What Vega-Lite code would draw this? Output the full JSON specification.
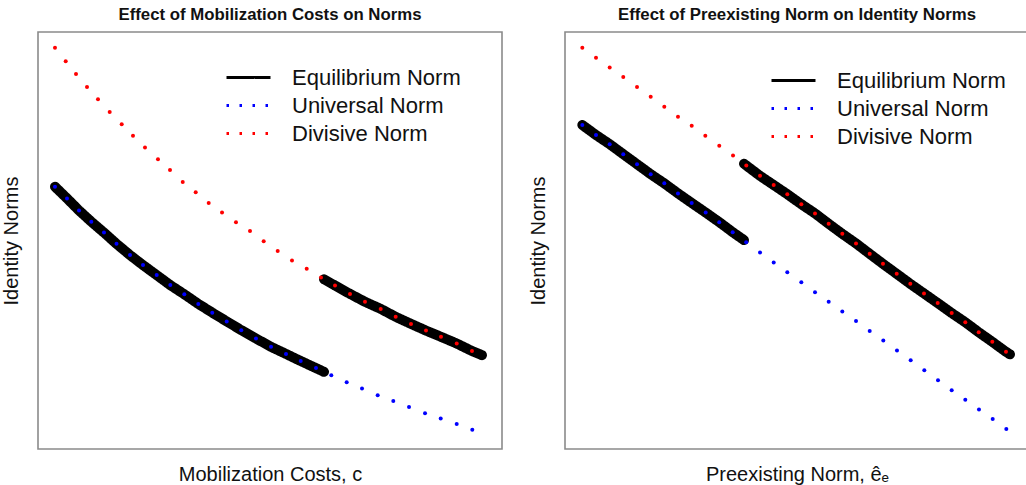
{
  "$schema": "https://vega.github.io/schema/vega-lite/v6.json",
  "background": "white",
  "padding": {"left": 0, "top": 6, "right": 0, "bottom": 0},
  "spacing": 24,
  "config": {
    "view": {"stroke": "#8a8a8a", "strokeWidth": 1.6},
    "font": "Liberation Sans",
    "axis": {"labels": false, "ticks": false, "domain": false, "grid": false, "titleFont": "Liberation Sans", "titleFontSize": 20, "titleFontWeight": "normal", "titleColor": "#111"},
    "axisX": {"titlePadding": 15},
    "axisY": {"titlePadding": 17},
    "title": {"font": "Liberation Sans", "fontSize": 16.8, "fontWeight": "bold", "color": "#111", "offset": 8},
    "legend": {"orient": "none", "title": null, "labelFont": "Liberation Sans", "labelFontSize": 22, "labelLimit": 400, "labelColor": "#111", "symbolType": "M-1.6,0H1.6", "symbolSize": 756, "symbolStrokeWidth": 3, "labelOffset": 28, "rowPadding": 1}
  },
  "datasets": {
    "mob": [
      {"series": "Equilibrium Norm", "seg": "a", "x": 3.66, "y": 62.9},
      {"series": "Equilibrium Norm", "seg": "a", "x": 6.25, "y": 60.1},
      {"series": "Equilibrium Norm", "seg": "a", "x": 8.84, "y": 57.2},
      {"series": "Equilibrium Norm", "seg": "a", "x": 11.49, "y": 54.5},
      {"series": "Equilibrium Norm", "seg": "a", "x": 14.22, "y": 51.9},
      {"series": "Equilibrium Norm", "seg": "a", "x": 16.92, "y": 49.2},
      {"series": "Equilibrium Norm", "seg": "a", "x": 19.83, "y": 46.5},
      {"series": "Equilibrium Norm", "seg": "a", "x": 22.63, "y": 44.1},
      {"series": "Equilibrium Norm", "seg": "a", "x": 25.58, "y": 41.7},
      {"series": "Equilibrium Norm", "seg": "a", "x": 28.51, "y": 39.3},
      {"series": "Equilibrium Norm", "seg": "a", "x": 31.53, "y": 37.1},
      {"series": "Equilibrium Norm", "seg": "a", "x": 34.55, "y": 34.8},
      {"series": "Equilibrium Norm", "seg": "a", "x": 37.56, "y": 32.7},
      {"series": "Equilibrium Norm", "seg": "a", "x": 40.67, "y": 30.6},
      {"series": "Equilibrium Norm", "seg": "a", "x": 43.81, "y": 28.5},
      {"series": "Equilibrium Norm", "seg": "a", "x": 46.98, "y": 26.5},
      {"series": "Equilibrium Norm", "seg": "a", "x": 50.22, "y": 24.5},
      {"series": "Equilibrium Norm", "seg": "a", "x": 53.45, "y": 22.8},
      {"series": "Equilibrium Norm", "seg": "a", "x": 56.62, "y": 21.1},
      {"series": "Equilibrium Norm", "seg": "a", "x": 59.91, "y": 19.4},
      {"series": "Equilibrium Norm", "seg": "a", "x": 61.64, "y": 18.5},
      {"series": "Equilibrium Norm", "seg": "b", "x": 61.64, "y": 40.7},
      {"series": "Equilibrium Norm", "seg": "b", "x": 64.01, "y": 39.2},
      {"series": "Equilibrium Norm", "seg": "b", "x": 67.24, "y": 37.2},
      {"series": "Equilibrium Norm", "seg": "b", "x": 70.47, "y": 35.3},
      {"series": "Equilibrium Norm", "seg": "b", "x": 73.86, "y": 33.6},
      {"series": "Equilibrium Norm", "seg": "b", "x": 77.09, "y": 31.7},
      {"series": "Equilibrium Norm", "seg": "b", "x": 80.39, "y": 30.0},
      {"series": "Equilibrium Norm", "seg": "b", "x": 83.62, "y": 28.4},
      {"series": "Equilibrium Norm", "seg": "b", "x": 86.85, "y": 26.9},
      {"series": "Equilibrium Norm", "seg": "b", "x": 90.24, "y": 25.3},
      {"series": "Equilibrium Norm", "seg": "b", "x": 93.53, "y": 23.5},
      {"series": "Equilibrium Norm", "seg": "b", "x": 95.69, "y": 22.5},
      {"series": "Universal Norm", "seg": "u", "x": 3.66, "y": 62.9},
      {"series": "Universal Norm", "seg": "u", "x": 6.25, "y": 60.1},
      {"series": "Universal Norm", "seg": "u", "x": 8.84, "y": 57.2},
      {"series": "Universal Norm", "seg": "u", "x": 11.49, "y": 54.5},
      {"series": "Universal Norm", "seg": "u", "x": 14.22, "y": 51.9},
      {"series": "Universal Norm", "seg": "u", "x": 16.92, "y": 49.2},
      {"series": "Universal Norm", "seg": "u", "x": 19.83, "y": 46.5},
      {"series": "Universal Norm", "seg": "u", "x": 22.63, "y": 44.1},
      {"series": "Universal Norm", "seg": "u", "x": 25.58, "y": 41.7},
      {"series": "Universal Norm", "seg": "u", "x": 28.51, "y": 39.3},
      {"series": "Universal Norm", "seg": "u", "x": 31.53, "y": 37.1},
      {"series": "Universal Norm", "seg": "u", "x": 34.55, "y": 34.8},
      {"series": "Universal Norm", "seg": "u", "x": 37.56, "y": 32.7},
      {"series": "Universal Norm", "seg": "u", "x": 40.67, "y": 30.6},
      {"series": "Universal Norm", "seg": "u", "x": 43.81, "y": 28.5},
      {"series": "Universal Norm", "seg": "u", "x": 46.98, "y": 26.5},
      {"series": "Universal Norm", "seg": "u", "x": 50.22, "y": 24.5},
      {"series": "Universal Norm", "seg": "u", "x": 53.45, "y": 22.8},
      {"series": "Universal Norm", "seg": "u", "x": 56.62, "y": 21.1},
      {"series": "Universal Norm", "seg": "u", "x": 59.91, "y": 19.4},
      {"series": "Universal Norm", "seg": "u", "x": 63.21, "y": 17.7},
      {"series": "Universal Norm", "seg": "u", "x": 66.53, "y": 16.0},
      {"series": "Universal Norm", "seg": "u", "x": 69.83, "y": 14.5},
      {"series": "Universal Norm", "seg": "u", "x": 73.21, "y": 12.9},
      {"series": "Universal Norm", "seg": "u", "x": 76.57, "y": 11.5},
      {"series": "Universal Norm", "seg": "u", "x": 79.96, "y": 10.1},
      {"series": "Universal Norm", "seg": "u", "x": 83.41, "y": 8.6},
      {"series": "Universal Norm", "seg": "u", "x": 86.79, "y": 7.3},
      {"series": "Universal Norm", "seg": "u", "x": 90.24, "y": 6.0},
      {"series": "Universal Norm", "seg": "u", "x": 93.6, "y": 4.6},
      {"series": "Divisive Norm", "seg": "d", "x": 3.66, "y": 96.2},
      {"series": "Divisive Norm", "seg": "d", "x": 5.97, "y": 93.0},
      {"series": "Divisive Norm", "seg": "d", "x": 8.19, "y": 89.9},
      {"series": "Divisive Norm", "seg": "d", "x": 10.56, "y": 86.8},
      {"series": "Divisive Norm", "seg": "d", "x": 12.93, "y": 83.9},
      {"series": "Divisive Norm", "seg": "d", "x": 15.45, "y": 80.8},
      {"series": "Divisive Norm", "seg": "d", "x": 18.04, "y": 77.9},
      {"series": "Divisive Norm", "seg": "d", "x": 20.47, "y": 75.1},
      {"series": "Divisive Norm", "seg": "d", "x": 23.06, "y": 72.3},
      {"series": "Divisive Norm", "seg": "d", "x": 25.86, "y": 69.5},
      {"series": "Divisive Norm", "seg": "d", "x": 28.45, "y": 66.9},
      {"series": "Divisive Norm", "seg": "d", "x": 31.19, "y": 64.0},
      {"series": "Divisive Norm", "seg": "d", "x": 33.99, "y": 61.6},
      {"series": "Divisive Norm", "seg": "d", "x": 36.79, "y": 59.0},
      {"series": "Divisive Norm", "seg": "d", "x": 39.66, "y": 56.7},
      {"series": "Divisive Norm", "seg": "d", "x": 42.67, "y": 54.4},
      {"series": "Divisive Norm", "seg": "d", "x": 45.69, "y": 52.3},
      {"series": "Divisive Norm", "seg": "d", "x": 48.64, "y": 49.8},
      {"series": "Divisive Norm", "seg": "d", "x": 51.66, "y": 47.5},
      {"series": "Divisive Norm", "seg": "d", "x": 54.74, "y": 45.2},
      {"series": "Divisive Norm", "seg": "d", "x": 57.91, "y": 43.2},
      {"series": "Divisive Norm", "seg": "d", "x": 60.99, "y": 41.1},
      {"series": "Divisive Norm", "seg": "d", "x": 64.01, "y": 39.2},
      {"series": "Divisive Norm", "seg": "d", "x": 67.24, "y": 37.2},
      {"series": "Divisive Norm", "seg": "d", "x": 70.47, "y": 35.3},
      {"series": "Divisive Norm", "seg": "d", "x": 73.86, "y": 33.6},
      {"series": "Divisive Norm", "seg": "d", "x": 77.09, "y": 31.7},
      {"series": "Divisive Norm", "seg": "d", "x": 80.39, "y": 30.0},
      {"series": "Divisive Norm", "seg": "d", "x": 83.62, "y": 28.4},
      {"series": "Divisive Norm", "seg": "d", "x": 86.85, "y": 26.9},
      {"series": "Divisive Norm", "seg": "d", "x": 90.24, "y": 25.3},
      {"series": "Divisive Norm", "seg": "d", "x": 93.53, "y": 23.5}
    ],
    "pre": [
      {"series": "Equilibrium Norm", "seg": "a", "x": 3.73, "y": 77.7},
      {"series": "Equilibrium Norm", "seg": "a", "x": 6.68, "y": 75.3},
      {"series": "Equilibrium Norm", "seg": "a", "x": 9.63, "y": 73.1},
      {"series": "Equilibrium Norm", "seg": "a", "x": 12.56, "y": 70.7},
      {"series": "Equilibrium Norm", "seg": "a", "x": 15.52, "y": 68.3},
      {"series": "Equilibrium Norm", "seg": "a", "x": 18.47, "y": 65.9},
      {"series": "Equilibrium Norm", "seg": "a", "x": 21.4, "y": 63.7},
      {"series": "Equilibrium Norm", "seg": "a", "x": 24.35, "y": 61.3},
      {"series": "Equilibrium Norm", "seg": "a", "x": 27.31, "y": 59.0},
      {"series": "Equilibrium Norm", "seg": "a", "x": 30.32, "y": 56.7},
      {"series": "Equilibrium Norm", "seg": "a", "x": 33.25, "y": 54.4},
      {"series": "Equilibrium Norm", "seg": "a", "x": 36.14, "y": 52.0},
      {"series": "Equilibrium Norm", "seg": "a", "x": 38.58, "y": 50.1},
      {"series": "Equilibrium Norm", "seg": "b", "x": 38.58, "y": 68.4},
      {"series": "Equilibrium Norm", "seg": "b", "x": 42.03, "y": 65.5},
      {"series": "Equilibrium Norm", "seg": "b", "x": 44.98, "y": 63.3},
      {"series": "Equilibrium Norm", "seg": "b", "x": 47.91, "y": 61.1},
      {"series": "Equilibrium Norm", "seg": "b", "x": 50.93, "y": 58.7},
      {"series": "Equilibrium Norm", "seg": "b", "x": 53.88, "y": 56.5},
      {"series": "Equilibrium Norm", "seg": "b", "x": 56.83, "y": 54.0},
      {"series": "Equilibrium Norm", "seg": "b", "x": 59.76, "y": 51.6},
      {"series": "Equilibrium Norm", "seg": "b", "x": 62.72, "y": 49.3},
      {"series": "Equilibrium Norm", "seg": "b", "x": 65.67, "y": 46.8},
      {"series": "Equilibrium Norm", "seg": "b", "x": 68.53, "y": 44.4},
      {"series": "Equilibrium Norm", "seg": "b", "x": 71.49, "y": 42.0},
      {"series": "Equilibrium Norm", "seg": "b", "x": 74.42, "y": 39.6},
      {"series": "Equilibrium Norm", "seg": "b", "x": 77.37, "y": 37.3},
      {"series": "Equilibrium Norm", "seg": "b", "x": 80.32, "y": 35.0},
      {"series": "Equilibrium Norm", "seg": "b", "x": 83.34, "y": 32.6},
      {"series": "Equilibrium Norm", "seg": "b", "x": 86.27, "y": 30.4},
      {"series": "Equilibrium Norm", "seg": "b", "x": 89.16, "y": 28.0},
      {"series": "Equilibrium Norm", "seg": "b", "x": 92.09, "y": 25.7},
      {"series": "Equilibrium Norm", "seg": "b", "x": 95.04, "y": 23.3},
      {"series": "Equilibrium Norm", "seg": "b", "x": 95.9, "y": 22.7},
      {"series": "Universal Norm", "seg": "u", "x": 3.73, "y": 77.7},
      {"series": "Universal Norm", "seg": "u", "x": 6.68, "y": 75.3},
      {"series": "Universal Norm", "seg": "u", "x": 9.63, "y": 73.1},
      {"series": "Universal Norm", "seg": "u", "x": 12.56, "y": 70.7},
      {"series": "Universal Norm", "seg": "u", "x": 15.52, "y": 68.3},
      {"series": "Universal Norm", "seg": "u", "x": 18.47, "y": 65.9},
      {"series": "Universal Norm", "seg": "u", "x": 21.4, "y": 63.7},
      {"series": "Universal Norm", "seg": "u", "x": 24.35, "y": 61.3},
      {"series": "Universal Norm", "seg": "u", "x": 27.31, "y": 59.0},
      {"series": "Universal Norm", "seg": "u", "x": 30.32, "y": 56.7},
      {"series": "Universal Norm", "seg": "u", "x": 33.25, "y": 54.4},
      {"series": "Universal Norm", "seg": "u", "x": 36.14, "y": 52.0},
      {"series": "Universal Norm", "seg": "u", "x": 39.05, "y": 49.6},
      {"series": "Universal Norm", "seg": "u", "x": 42.03, "y": 47.1},
      {"series": "Universal Norm", "seg": "u", "x": 44.98, "y": 44.7},
      {"series": "Universal Norm", "seg": "u", "x": 47.91, "y": 42.4},
      {"series": "Universal Norm", "seg": "u", "x": 50.93, "y": 40.0},
      {"series": "Universal Norm", "seg": "u", "x": 53.88, "y": 37.6},
      {"series": "Universal Norm", "seg": "u", "x": 56.83, "y": 35.3},
      {"series": "Universal Norm", "seg": "u", "x": 59.76, "y": 33.0},
      {"series": "Universal Norm", "seg": "u", "x": 62.72, "y": 30.7},
      {"series": "Universal Norm", "seg": "u", "x": 65.67, "y": 28.3},
      {"series": "Universal Norm", "seg": "u", "x": 68.6, "y": 26.0},
      {"series": "Universal Norm", "seg": "u", "x": 71.55, "y": 23.6},
      {"series": "Universal Norm", "seg": "u", "x": 74.5, "y": 21.3},
      {"series": "Universal Norm", "seg": "u", "x": 77.44, "y": 18.9},
      {"series": "Universal Norm", "seg": "u", "x": 80.39, "y": 16.5},
      {"series": "Universal Norm", "seg": "u", "x": 83.34, "y": 14.1},
      {"series": "Universal Norm", "seg": "u", "x": 86.27, "y": 11.8},
      {"series": "Universal Norm", "seg": "u", "x": 89.22, "y": 9.5},
      {"series": "Universal Norm", "seg": "u", "x": 92.18, "y": 7.2},
      {"series": "Universal Norm", "seg": "u", "x": 95.11, "y": 4.8},
      {"series": "Divisive Norm", "seg": "d", "x": 3.73, "y": 96.2},
      {"series": "Divisive Norm", "seg": "d", "x": 6.68, "y": 93.8},
      {"series": "Divisive Norm", "seg": "d", "x": 9.63, "y": 91.5},
      {"series": "Divisive Norm", "seg": "d", "x": 12.56, "y": 89.2},
      {"series": "Divisive Norm", "seg": "d", "x": 15.52, "y": 86.8},
      {"series": "Divisive Norm", "seg": "d", "x": 18.47, "y": 84.5},
      {"series": "Divisive Norm", "seg": "d", "x": 21.4, "y": 82.1},
      {"series": "Divisive Norm", "seg": "d", "x": 24.35, "y": 79.7},
      {"series": "Divisive Norm", "seg": "d", "x": 27.31, "y": 77.5},
      {"series": "Divisive Norm", "seg": "d", "x": 30.24, "y": 75.1},
      {"series": "Divisive Norm", "seg": "d", "x": 33.25, "y": 72.7},
      {"series": "Divisive Norm", "seg": "d", "x": 36.21, "y": 70.4},
      {"series": "Divisive Norm", "seg": "d", "x": 39.07, "y": 68.0},
      {"series": "Divisive Norm", "seg": "d", "x": 42.03, "y": 65.5},
      {"series": "Divisive Norm", "seg": "d", "x": 44.98, "y": 63.3},
      {"series": "Divisive Norm", "seg": "d", "x": 47.91, "y": 61.1},
      {"series": "Divisive Norm", "seg": "d", "x": 50.93, "y": 58.7},
      {"series": "Divisive Norm", "seg": "d", "x": 53.88, "y": 56.5},
      {"series": "Divisive Norm", "seg": "d", "x": 56.83, "y": 54.0},
      {"series": "Divisive Norm", "seg": "d", "x": 59.76, "y": 51.6},
      {"series": "Divisive Norm", "seg": "d", "x": 62.72, "y": 49.3},
      {"series": "Divisive Norm", "seg": "d", "x": 65.67, "y": 46.8},
      {"series": "Divisive Norm", "seg": "d", "x": 68.53, "y": 44.4},
      {"series": "Divisive Norm", "seg": "d", "x": 71.49, "y": 42.0},
      {"series": "Divisive Norm", "seg": "d", "x": 74.42, "y": 39.6},
      {"series": "Divisive Norm", "seg": "d", "x": 77.37, "y": 37.3},
      {"series": "Divisive Norm", "seg": "d", "x": 80.32, "y": 35.0},
      {"series": "Divisive Norm", "seg": "d", "x": 83.34, "y": 32.6},
      {"series": "Divisive Norm", "seg": "d", "x": 86.27, "y": 30.4},
      {"series": "Divisive Norm", "seg": "d", "x": 89.16, "y": 28.0},
      {"series": "Divisive Norm", "seg": "d", "x": 92.09, "y": 25.7},
      {"series": "Divisive Norm", "seg": "d", "x": 95.04, "y": 23.3}
    ]
  },
  "hconcat": [
    {
      "width": 464, "height": 417,
      "title": {"text": "Effect of Mobilization Costs on Norms"},
      "data": {"name": "mob"},
      "layer": [
        {
          "transform": [{"filter": "datum.series === 'Equilibrium Norm'"}],
          "mark": {"type": "line", "strokeWidth": 10, "strokeCap": "round", "strokeJoin": "round"},
          "encoding": {
            "x": {"field": "x", "type": "quantitative", "scale": {"domain": [0, 100], "nice": false, "zero": false}, "axis": {"title": "Mobilization Costs, c"}},
            "y": {"field": "y", "type": "quantitative", "scale": {"domain": [0, 100], "nice": false, "zero": false}, "axis": {"title": "Identity Norms"}},
            "detail": {"field": "seg"},
            "color": {"field": "series", "type": "nominal", "scale": {"domain": ["Equilibrium Norm", "Universal Norm", "Divisive Norm"], "range": ["#000000", "#0000ff", "#ff0000"]}, "legend": {"legendX": 195, "legendY": 30}},
            "strokeDash": {"field": "series", "type": "nominal", "scale": {"domain": ["Equilibrium Norm", "Universal Norm", "Divisive Norm"], "range": [[1, 0], [2.5, 10.5], [2.5, 10.5]]}, "legend": {"legendX": 195, "legendY": 30}}
          }
        },
        {
          "transform": [{"filter": "datum.series !== 'Equilibrium Norm'"}],
          "mark": {"type": "point", "filled": true, "size": 16, "opacity": 1},
          "encoding": {
            "x": {"field": "x", "type": "quantitative"},
            "y": {"field": "y", "type": "quantitative"},
            "color": {"field": "series", "type": "nominal", "legend": null}
          }
        }
      ]
    },
    {
      "width": 464, "height": 417,
      "title": {"text": "Effect of Preexisting Norm on Identity Norms"},
      "data": {"name": "pre"},
      "layer": [
        {
          "transform": [{"filter": "datum.series === 'Equilibrium Norm'"}],
          "mark": {"type": "line", "strokeWidth": 10, "strokeCap": "round", "strokeJoin": "round"},
          "encoding": {
            "x": {"field": "x", "type": "quantitative", "scale": {"domain": [0, 100], "nice": false, "zero": false}, "axis": {"title": "Preexisting Norm, ê\u2091"}},
            "y": {"field": "y", "type": "quantitative", "scale": {"domain": [0, 100], "nice": false, "zero": false}, "axis": {"title": "Identity Norms"}},
            "detail": {"field": "seg"},
            "color": {"field": "series", "type": "nominal", "scale": {"domain": ["Equilibrium Norm", "Universal Norm", "Divisive Norm"], "range": ["#000000", "#0000ff", "#ff0000"]}, "legend": {"legendX": 213, "legendY": 33}},
            "strokeDash": {"field": "series", "type": "nominal", "scale": {"domain": ["Equilibrium Norm", "Universal Norm", "Divisive Norm"], "range": [[1, 0], [2.5, 10.5], [2.5, 10.5]]}, "legend": {"legendX": 213, "legendY": 33}}
          }
        },
        {
          "transform": [{"filter": "datum.series !== 'Equilibrium Norm'"}],
          "mark": {"type": "point", "filled": true, "size": 16, "opacity": 1},
          "encoding": {
            "x": {"field": "x", "type": "quantitative"},
            "y": {"field": "y", "type": "quantitative"},
            "color": {"field": "series", "type": "nominal", "legend": null}
          }
        }
      ]
    }
  ],
  "resolve": {
    "scale": {"x": "independent", "y": "independent", "color": "independent", "strokeDash": "independent"},
    "legend": {"color": "independent", "strokeDash": "independent"}
  }
}
